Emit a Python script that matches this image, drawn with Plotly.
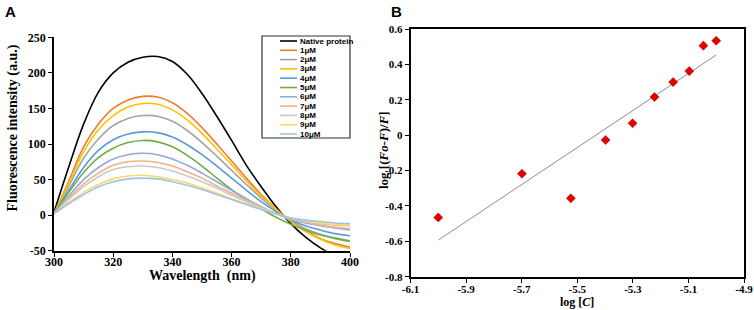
import plotly.graph_objects as go

W, H = 754, 310

# ---------------- Panel A data ----------------
wavelength = [300, 305, 310, 315, 320, 325, 330, 335, 340, 345, 350,
              355, 360, 365, 370, 375, 380, 385, 390, 395, 400]

native = [4, 68, 128, 173, 200, 215, 222, 223, 216, 198, 171, 139, 105, 70, 40, 12, -12, -31, -46, -57, -64]
c1 = [2, 48, 96, 128, 150, 162, 167, 166, 158, 143, 123, 100, 76, 52, 29, 9, -8, -22, -33, -40, -45]
c2 = [2, 41, 80, 107, 126, 136, 140, 139, 132, 119, 102, 83, 63, 43, 24, 7, -8, -19, -27, -32, -36]
c3 = [2, 45, 89, 120, 140, 152, 157, 156, 148, 134, 115, 93, 71, 48, 27, 8, -9, -23, -34, -42, -47]
c4 = [2, 35, 67, 91, 106, 114, 117, 116, 110, 99, 85, 69, 52, 35, 19, 5, -7, -15, -21, -26, -29]
c5 = [2, 32, 60, 81, 94, 102, 105, 103, 96, 84, 69, 52, 36, 22, 9, -3, -13, -21, -28, -33, -37]
c6 = [2, 27, 50, 67, 79, 85, 87, 85, 79, 70, 59, 47, 35, 23, 12, 2, -6, -11, -15, -18, -21]
c7 = [2, 24, 44, 59, 70, 75, 76, 74, 69, 61, 52, 41, 31, 21, 11, 2, -5, -10, -14, -17, -19]
c8 = [2, 22, 40, 54, 64, 68, 69, 67, 62, 55, 47, 38, 28, 19, 10, 2, -5, -9, -12, -14, -15]
c9 = [2, 18, 32, 43, 51, 55, 56, 54, 50, 45, 38, 31, 23, 16, 9, 2, -4, -8, -11, -13, -14]
c10 = [2, 16, 29, 40, 47, 51, 52, 51, 47, 42, 36, 29, 22, 15, 8, 2, -4, -7, -9, -11, -12]

series_names = ["Native protein", "1μM", "2μM", "3μM", "4μM", "5μM",
                "6μM", "7μM", "8μM", "9μM", "10μM"]
series_values = [native, c1, c2, c3, c4, c5, c6, c7, c8, c9, c10]
series_colors = ["#000000", "#ED7D31", "#A5A5A5", "#FFC000", "#5B9BD5", "#70AD47",
                 "#8FAADC", "#F4B183", "#C9C9C9", "#FFD966", "#9DC3E6"]

a_xticks = [300, 320, 340, 360, 380, 400]
a_yticks = [-50, 0, 50, 100, 150, 200, 250]

# ---------------- Panel B data ----------------
log_c = [-6.0, -5.699, -5.523, -5.398, -5.301, -5.222, -5.155, -5.097, -5.046, -5.0]
log_q = [-0.465, -0.218, -0.357, -0.027, 0.067, 0.216, 0.300, 0.362, 0.506, 0.534]
fit_x = [-6.0, -5.0]
fit_y = [-0.593, 0.453]

b_xticks = [-6.1, -5.9, -5.7, -5.5, -5.3, -5.1, -4.9]
b_yticks = [-0.8, -0.6, -0.4, -0.2, 0, 0.2, 0.4, 0.6]


def fmt(v):
    return "%g" % v


def px_x(p):
    return p / W


def px_y(p):
    return 1 - p / H


fig = go.Figure()

for name, vals, col in zip(series_names, series_values, series_colors):
    fig.add_trace(go.Scatter(
        x=wavelength, y=vals, mode="lines", name=name,
        line=dict(color=col, width=1.6, shape="spline", smoothing=1.0),
        xaxis="x", yaxis="y", showlegend=False))

fig.add_trace(go.Scatter(
    x=fit_x, y=fit_y, mode="lines", line=dict(color="#8C8C8C", width=1),
    xaxis="x2", yaxis="y2", showlegend=False))
fig.add_trace(go.Scatter(
    x=log_c, y=log_q, mode="markers",
    marker=dict(symbol="diamond", size=7, color="#E00000",
                line=dict(color="#C00000", width=0.5)),
    xaxis="x2", yaxis="y2", showlegend=False))

tickfont_a = dict(family="Liberation Serif", size=12, color="black", weight="bold")
tickfont_b = dict(family="Liberation Serif", size=11, color="black", weight="bold")

common = dict(showline=True, linecolor="black", linewidth=1.6,
              ticks="outside", ticklen=4, tickwidth=1.2, tickcolor="black",
              showgrid=False, zeroline=False, automargin=False,
              ticklabeloverflow="allow")

fig.update_layout(
    width=W, height=H, autosize=False,
    margin=dict(l=0, r=0, t=0, b=0, pad=0, autoexpand=False),
    paper_bgcolor="white", plot_bgcolor="white",
    showlegend=False,
    xaxis=dict(domain=[px_x(54), px_x(350)], range=[300, 400], anchor="y",
               tickvals=a_xticks, ticktext=[fmt(v) for v in a_xticks],
               tickfont=tickfont_a, ticklabelstandoff=-5, **common),
    yaxis=dict(domain=[px_y(250.7), px_y(37.3)], range=[-50, 250], anchor="x",
               tickvals=a_yticks, ticktext=[fmt(v) for v in a_yticks],
               tickfont=tickfont_a, **common),
    xaxis2=dict(domain=[px_x(410.5), px_x(744)], range=[-6.1, -4.9], anchor="y2",
                tickvals=b_xticks, ticktext=[fmt(v) for v in b_xticks],
                mirror=True, tickfont=tickfont_b, ticklabelstandoff=-3, **common),
    yaxis2=dict(domain=[px_y(276.7), px_y(29)], range=[-0.8, 0.6], anchor="x2",
                tickvals=b_yticks, ticktext=[fmt(v) for v in b_yticks],
                mirror=True, tickfont=tickfont_b, **common),
)

annotations = []
shapes = []

annotations.append(dict(text="<b>A</b>", x=px_x(3), y=px_y(1), xref="paper", yref="paper",
                        xanchor="left", yanchor="top", showarrow=False,
                        font=dict(family="Liberation Sans", size=15, color="black")))
annotations.append(dict(text="<b>B</b>", x=px_x(389), y=px_y(1), xref="paper", yref="paper",
                        xanchor="left", yanchor="top", showarrow=False,
                        font=dict(family="Liberation Sans", size=15, color="black")))

title_font = dict(family="Liberation Serif", size=14, color="black")
annotations.append(dict(text="<b>Wavelength  (nm)</b>", x=px_x(202), y=px_y(276),
                        xref="paper", yref="paper", xanchor="center", yanchor="middle",
                        showarrow=False, font=title_font))
annotations.append(dict(text="<b>Fluorescence intensity (a.u.)</b>", x=px_x(12.5), y=px_y(128),
                        xref="paper", yref="paper", xanchor="center", yanchor="middle",
                        textangle=-90, showarrow=False, font=title_font))
annotations.append(dict(text="<b>log [<i>C</i>]</b>", x=px_x(577), y=px_y(302),
                        xref="paper", yref="paper", xanchor="center", yanchor="middle",
                        showarrow=False,
                        font=dict(family="Liberation Serif", size=12, color="black")))
annotations.append(dict(text="<b>log [(<i>Fo-F</i>)/<i>F</i>]</b>", x=px_x(383), y=px_y(150),
                        xref="paper", yref="paper", xanchor="center", yanchor="middle",
                        textangle=-90, showarrow=False,
                        font=dict(family="Liberation Serif", size=13, color="black")))

shapes.append(dict(type="rect", xref="paper", yref="paper",
                   x0=px_x(262), x1=px_x(350), y0=px_y(138), y1=px_y(36),
                   line=dict(color="#333333", width=1.2), fillcolor="white", layer="above"))
for i, (name, col) in enumerate(zip(series_names, series_colors)):
    yy = 41 + i * 9.3
    shapes.append(dict(type="line", xref="paper", yref="paper",
                       x0=px_x(280), x1=px_x(297), y0=px_y(yy), y1=px_y(yy),
                       line=dict(color=col, width=1.6), layer="above"))
    annotations.append(dict(text="<b>%s</b>" % name, x=px_x(298), y=px_y(yy),
                            xref="paper", yref="paper", xanchor="left", yanchor="middle",
                            showarrow=False,
                            font=dict(family="Liberation Sans", size=8, color="black")))

fig.update_layout(annotations=annotations, shapes=shapes)

fig.write_html("out.html", config={"displayModeBar": False},
               post_script="document.body.style.margin='0';document.body.style.padding='0';")
